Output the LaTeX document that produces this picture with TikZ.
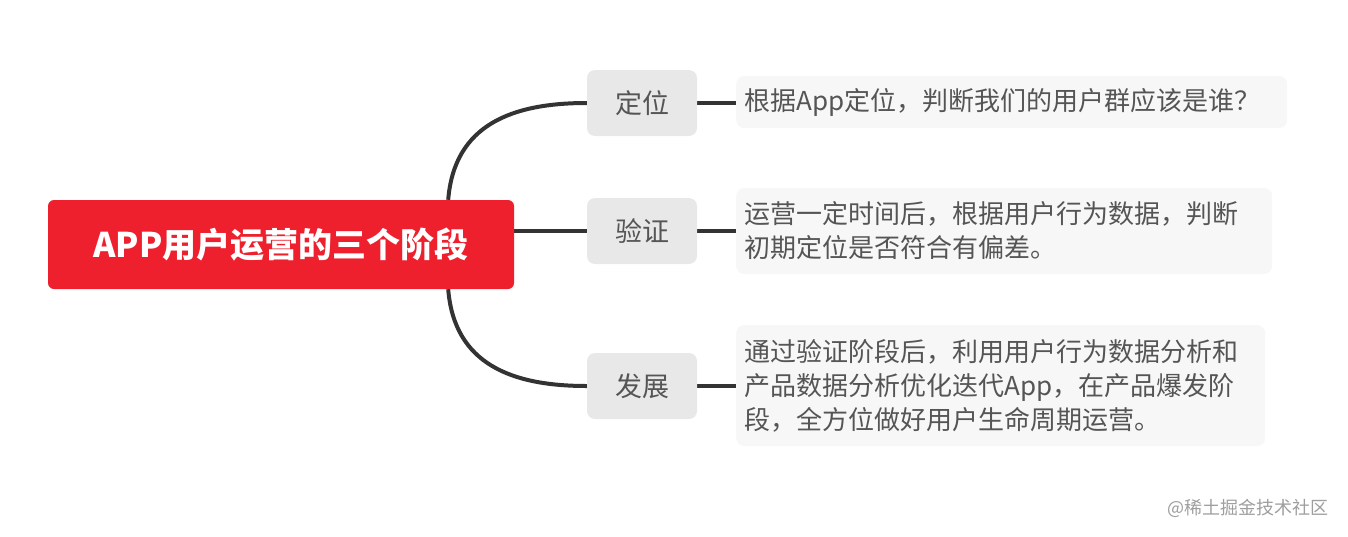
\documentclass[tikz,border=0pt]{standalone}
\usepackage{fontspec}
\setmainfont{Noto Sans CJK SC}
\usetikzlibrary{positioning,calc,backgrounds}

\definecolor{rootred}{RGB}{238,32,45}
\definecolor{branchgray}{RGB}{232,232,232}
\definecolor{notegray}{RGB}{247,247,247}
\definecolor{inkgray}{RGB}{85,85,85}
\definecolor{linegray}{RGB}{51,51,51}

\begin{document}
\begin{tikzpicture}[
    x=1pt, y=-1pt,
    rootbox/.style={fill=rootred, rounded corners=6pt, minimum width=466pt, minimum height=89pt,
        text=white, font=\fontsize{34}{38}\selectfont\bfseries},
    stagebox/.style={fill=branchgray, rounded corners=8pt, minimum width=110pt, minimum height=66pt,
        text=inkgray, font=\fontsize{27}{30}\selectfont},
    notebox/.style={fill=notegray, rounded corners=8pt, anchor=west, inner xsep=8pt,
        align=left, text=inkgray, font=\fontsize{26}{34}\selectfont},
    link/.style={draw=linegray, line width=4pt}
]
    \useasboundingbox (0,0) rectangle (1348,536);

    % Root
    \node[rootbox] (root) at (281,244.5) {APP用户运营的三个阶段};

    % Stages
    \node[stagebox] (dingwei) at (642,103) {定位};
    \node[stagebox] (yanzheng) at (642,231) {验证};
    \node[stagebox] (fazhan) at (642,386) {发展};

    % Notes
    \node[notebox, text width=535pt, minimum height=52pt] (note1) at (736,102) {根据App定位，判断我们的用户群应该是谁？};
    \node[notebox, text width=520pt, minimum height=86pt] (note2) at (736,231) {运营一定时间后，根据用户行为数据，判断\\初期定位是否符合有偏差。};
    \node[notebox, text width=513pt, minimum height=121pt] (note3) at (736,385.5) {通过验证阶段后，利用用户行为数据分析和\\产品数据分析优化迭代App，在产品爆发阶\\段，全方位做好用户生命周期运营。};

    % Connectors
    \begin{scope}[on background layer]
        \coordinate (upstart) at ($(root.north east)+(-66,0)$);
        \coordinate (downstart) at ($(root.south east)+(-66,0)$);
        \draw[link] (upstart) .. controls ($(upstart)+(6,-75)$) and ($(dingwei.west)+(-75,0)$) .. (dingwei.west);
        \draw[link] (downstart) .. controls ($(downstart)+(6,75)$) and ($(fazhan.west)+(-75,0)$) .. (fazhan.west);
        \draw[link] (root.east |- yanzheng.west) -- (yanzheng.west);
        \draw[link] (dingwei.east) -- (dingwei.east -| note1.west);
        \draw[link] (yanzheng.east) -- (yanzheng.east -| note2.west);
        \draw[link] (fazhan.east) -- (fazhan.east -| note3.west);
    \end{scope}

    % Watermark
    \node[text=black!38, font=\fontsize{18}{20}\selectfont, anchor=east] (mark) at (1332,508) {@稀土掘金技术社区};
\end{tikzpicture}
\end{document}
